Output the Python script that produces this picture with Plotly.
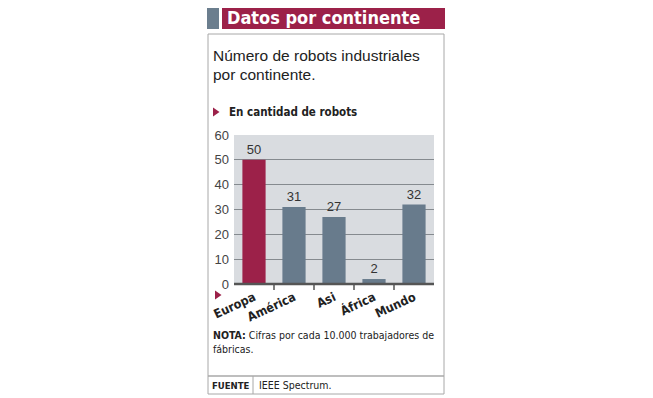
import plotly.graph_objects as go

categories = ["Europa", "América", "Asi", "África", "Mundo"]
values = [50, 31, 27, 2, 32]
bar_colors = ["#9c2149", "#687b8c", "#687b8c", "#687b8c", "#687b8c"]
y_ticks = [0, 10, 20, 30, 40, 50, 60]

W, H = 653, 398
OFF = 8  # page body margin offset
PL, PR, PT, PB = 234, 434, 135, 284  # plot area in screen pixels


def px(x):
    return (x - PL) / (PR - PL)


def py(y):
    return (PB - y) / (PB - PT)


NARROW = "DejaVu Sans Condensed, Liberation Sans Narrow, sans-serif"
SANS = "Liberation Sans, Arial, sans-serif"
MAROON = "#9c2149"

fig = go.Figure()
fig.add_trace(go.Bar(
    x=categories, y=values, marker=dict(color=bar_colors, line=dict(width=0)),
    width=0.58, text=[str(v) for v in values], textposition="outside",
    textfont=dict(family=SANS, size=13, color="#333333"), cliponaxis=False,
    hoverinfo="skip",
))

shapes = []
shapes.append(dict(type="rect", xref="paper", yref="paper", x0=px(207), x1=px(219), y0=py(29), y1=py(5),
                   fillcolor="#6b7e8e", line=dict(width=0), layer="below"))
shapes.append(dict(type="rect", xref="paper", yref="paper", x0=px(222), x1=px(445), y0=py(29), y1=py(5),
                   fillcolor=MAROON, line=dict(width=0), layer="below"))
shapes.append(dict(type="rect", xref="paper", yref="paper", x0=px(208), x1=px(444), y0=py(394), y1=py(34),
                   line=dict(color="#a8a8a8", width=1), layer="below"))
shapes.append(dict(type="line", xref="paper", yref="paper", x0=px(208), x1=px(444), y0=py(376), y1=py(376),
                   line=dict(color="#a8a8a8", width=1.5)))
shapes.append(dict(type="line", xref="paper", yref="paper", x0=px(253), x1=px(253), y0=py(376), y1=py(394),
                   line=dict(color="#a8a8a8", width=1)))


def tri(cx, cy):
    return dict(type="path", xref="paper", yref="paper",
                path=f"M {px(cx-3)} {py(cy-4.5)} L {px(cx+3.5)} {py(cy)} L {px(cx-3)} {py(cy+4.5)} Z",
                fillcolor=MAROON, line=dict(width=0))


shapes.append(tri(216, 112))
shapes.append(tri(218, 295))
for i in range(len(categories) - 1):
    shapes.append(dict(type="line", xref="x", yref="paper", x0=i + 0.5, x1=i + 0.5, y0=0, y1=py(290),
                       line=dict(color="#555555", width=1.5)))
shapes.append(dict(type="line", xref="paper", yref="paper", x0=0, x1=1, y0=0, y1=0,
                   line=dict(color="#555555", width=2.5)))

annotations = []


def note(x, y, text, size, family, color="#222222", bold=False):
    annotations.append(dict(xref="paper", yref="paper", x=px(x), y=py(y), text=(f"<b>{text}</b>" if bold else text),
                            showarrow=False, xanchor="left", yanchor="middle",
                            font=dict(family=family, size=size, color=color)))


note(225, 17, "Datos por continente", 18, NARROW, color="#ffffff", bold=True)
note(211, 55, "Número de robots industriales", 15.5, SANS)
note(211, 75, "por continente.", 15.5, SANS)
note(227, 112, "En cantidad de robots", 11.5, NARROW, bold=True)
annotations.append(dict(xref="paper", yref="paper", x=px(211), y=py(335),
                        text="<b>NOTA:</b> Cifras por cada 10.000 trabajadores de", showarrow=False,
                        xanchor="left", yanchor="middle", font=dict(family=NARROW, size=10.5, color="#222222")))
note(211, 349, "fábricas.", 10.5, NARROW)
note(210, 385, "FUENTE", 9.5, NARROW, bold=True)
note(257, 385, "IEEE Spectrum.", 10.5, NARROW)

fig.update_layout(
    width=W, height=H,
    margin=dict(l=PL - OFF, r=W - (PR - OFF), t=PT - OFF, b=H - (PB - OFF), pad=0),
    paper_bgcolor="#ffffff", plot_bgcolor="#d9dce0",
    showlegend=False, bargap=0.42,
    shapes=shapes, annotations=annotations,
    xaxis=dict(showgrid=False, showline=False, ticks="", tickangle=-25,
               tickfont=dict(family=NARROW, size=12.5, color="#222222"),
               ticklabelstandoff=3, fixedrange=True),
    yaxis=dict(range=[0, 60], tickvals=y_ticks, showgrid=True, gridcolor="#858a8f", gridwidth=1,
               zeroline=False, showline=False, ticks="", ticklabelstandoff=4,
               tickfont=dict(family=SANS, size=13, color="#444444"), fixedrange=True),
)
fig.update_xaxes(tickprefix="<b>", ticksuffix="</b>")

fig.write_html("out.html")
